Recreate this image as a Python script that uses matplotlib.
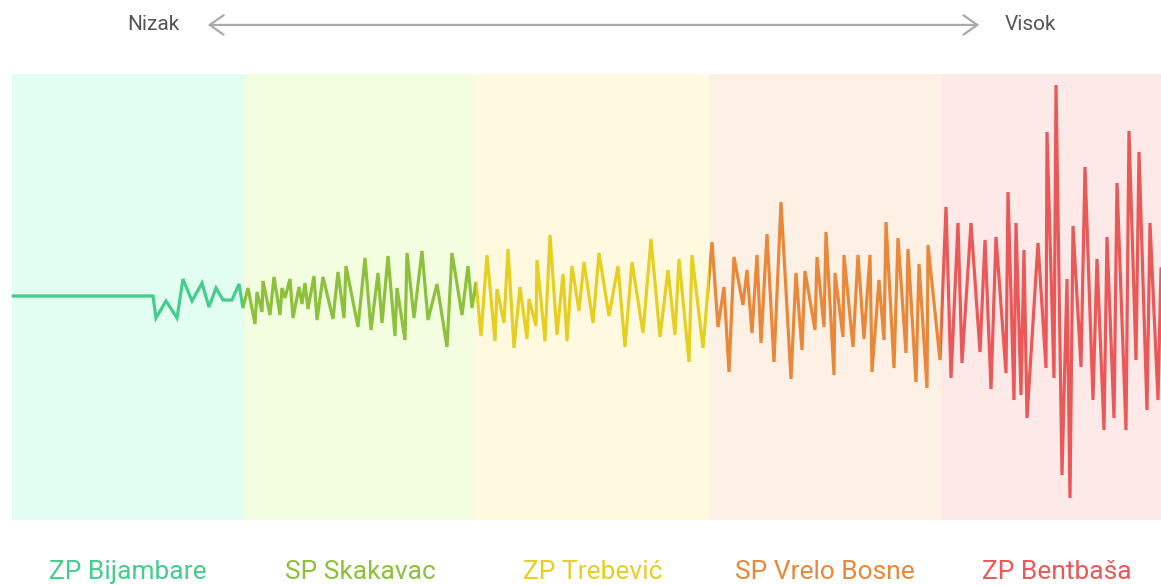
import numpy as np
import matplotlib
matplotlib.use('Agg')
import matplotlib.pyplot as plt
from matplotlib.patches import Rectangle

plt.rcParams['font.family'] = ['Roboto', 'DejaVu Sans']

# podaci: polozaj (x) i amplituda (y) signala
x = [0, 141, 144, 154, 165, 171, 180, 190, 197, 204, 211, 220, 227, 231,
     236, 243, 245, 250, 251, 258, 262, 268, 270, 273, 278, 281, 287, 290, 293, 296,
     302, 305, 311, 321, 326, 332, 334, 346, 353, 359, 366, 370, 376, 383, 385, 393,
     395, 402, 410, 416, 425, 435, 440, 450, 456, 460, 464,
     469, 475, 483, 485, 492, 496, 502, 508, 515, 517, 524, 525, 533, 538, 545, 551,
     555, 560, 567, 572, 581, 587, 597, 606, 613, 620, 631, 639, 648, 656, 663, 667,
     677, 680, 691,
     700, 706, 712, 717, 722, 731, 735, 740, 745, 749, 755, 762, 769, 779, 784, 790,
     793, 803, 805, 812, 814, 822, 823, 831, 832, 841, 846, 852, 858, 860, 867, 872,
     874, 882, 886, 894, 896, 904, 907, 915, 916, 928,
     934, 939, 946, 950, 959, 968, 973, 979, 984, 994, 996, 1002, 1004, 1009, 1012,
     1015, 1026, 1034, 1035, 1042, 1044, 1050, 1055, 1058, 1061, 1069, 1073, 1081,
     1085, 1092, 1095, 1102, 1105, 1114, 1117, 1124, 1127, 1135, 1138, 1146, 1149]
y = [0, 0, -22, -5, -22, 17, -5, 13, -11, 8, -4, -4, 12, -12,
     8, -28, 4, -16, 15, -19, 19, -19, 8, -2, 17, -22, 9, -8, 13, -13,
     20, -24, 19, -23, 24, -22, 30, -31, 38, -34, 23, -27, 40, -40, 8, -44,
     43, -22, 45, -24, 12, -51, 43, -19, 30, -12, 14,
     -40, 41, -45, 7, -27, 47, -52, 9, -43, -3, -30, 36, -45, 61, -39, 22,
     -45, 30, -15, 34, -27, 43, -20, 30, -51, 34, -37, 57, -41, 26, -39, 37,
     -66, 41, -52,
     54, -31, 9, -76, 39, -9, 26, -37, 41, -47, 62, -66, 94, -83, 23, -54,
     25, -34, 39, -31, 64, -79, 23, -41, 41, -51, 41, -43, 41, -76, 16, -44,
     74, -72, 58, -57, 47, -86, 32, -92, 51, -64,
     89, -82, 73, -67, 73, -56, 56, -93, 59, -77, 104, -104, 73, -99, 46,
     -122, 53, -72, 164, -82, 211, -179, 17, -202, 70, -71, 129, -104,
     37, -134, 59, -122, 113, -134, 165, -64, 144, -114, 73, -104, 27]

lokacije = ['ZP Bijambare', 'SP Skakavac', 'ZP Trebević', 'SP Vrelo Bosne', 'ZP Bentbaša']
boje_linije = ['#45cd8b', '#8dc03c', '#e6cf22', '#e9883b', '#ea5858']
boje_pozadine = ['#e2fdf1', '#f3fde0', '#fffadf', '#fdf0e4', '#fee9e9']
sirina_pojasa = 232.2

fig = plt.figure(figsize=(11.61, 5.85), dpi=100)
ax = fig.add_axes([12 / 1161, 65 / 585, 1 - 12 / 1161, 446 / 585])
ax.set_xlim(0, 1149)
ax.set_ylim(-224, 222)
ax.axis('off')

for i, naziv in enumerate(lokacije):
    x0 = i * sirina_pojasa
    ax.axvspan(x0, x0 + sirina_pojasa, color=boje_pozadine[i], lw=0, zorder=0)
    linija, = ax.plot(x, y, color=boje_linije[i], lw=2.3, zorder=2,
                      solid_joinstyle='miter')
    rect = Rectangle((x0, -300), sirina_pojasa, 600, transform=ax.transData)
    linija.set_clip_path(rect)
    ax.text(x0 + sirina_pojasa / 2, -0.132, naziv, transform=ax.get_xaxis_transform(),
            ha='center', va='baseline', fontsize=19, color=boje_linije[i])

# strelica na vrhu
ax.annotate('', xy=(970, 1.11), xytext=(193, 1.11), xycoords=ax.get_xaxis_transform(),
            annotation_clip=False,
            arrowprops=dict(arrowstyle='<->,head_length=0.5,head_width=0.35',
                            color='#aaaaaa', lw=1.6, mutation_scale=20))
ax.text(141, 1.11, 'Nizak', transform=ax.get_xaxis_transform(), ha='center', va='center',
        fontsize=15, color='#555555')
ax.text(1018, 1.11, 'Visok', transform=ax.get_xaxis_transform(), ha='center', va='center',
        fontsize=15, color='#555555')

fig.savefig('out.png', dpi=100)
